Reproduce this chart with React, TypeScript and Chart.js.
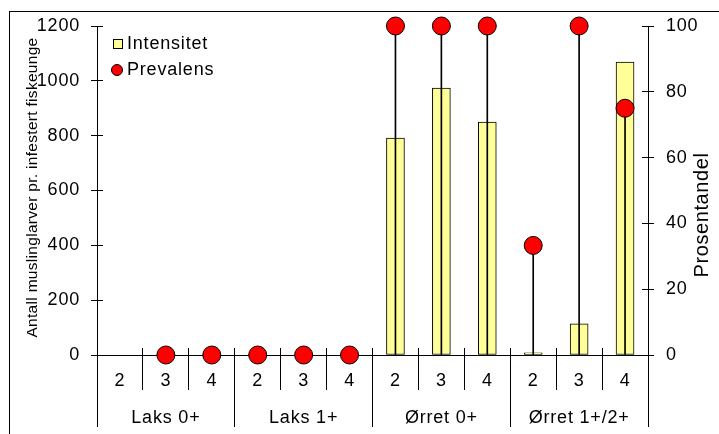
import { useEffect, useRef } from 'react';
import { Chart, registerables } from 'chart.js';

Chart.register(...registerables);

const subLabels = ['2', '3', '4', '2', '3', '4', '2', '3', '4', '2', '3', '4'];
const groupLabels = ['Laks 0+', 'Laks 1+', 'Ørret 0+', 'Ørret 1+/2+'];
const intensitet: (number | null)[] = [null, null, null, null, null, null, 791, 974, 850, 8, 114, 1068];
const prevalens: (number | null)[] = [null, 0, 0, 0, 0, 0, 100, 100, 100, 33.3, 100, 75];
const leftTitle = 'Antall muslinglarver pr. infestert fiskeunge';
const rightTitle = 'Prosentandel';
const legendLabels = ['Intensitet', 'Prevalens'];

const FAMILY = 'Arial, "Liberation Sans", sans-serif';
const BAR_FILL = '#FFFF99';
const POINT_FILL = '#FF0000';

const align = (p: number) => Math.round(p - 0.5) + 0.5;

const decor = {
  id: 'decor',
  beforeDraw(chart: any) {
    const ctx = chart.ctx;
    ctx.save();
    ctx.strokeStyle = '#000';
    ctx.lineWidth = 1;
    ctx.strokeRect(9.5, 11.5, 900, 900);
    ctx.restore();
    ctx.letterSpacing = '0.8px';
  },
  afterDraw(chart: any) {
    const ctx = chart.ctx;
    const { x, y, y2 } = chart.scales;
    ctx.save();
    ctx.strokeStyle = '#000';
    ctx.lineWidth = 1;
    ctx.beginPath();
    y.ticks.forEach((_t: any, i: number) => {
      const py = align(y.getPixelForTick(i));
      ctx.moveTo(y.right, py);
      ctx.lineTo(y.right + 6, py);
    });
    y2.ticks.forEach((_t: any, i: number) => {
      const py = align(y2.getPixelForTick(i));
      ctx.moveTo(y2.left - 6, py);
      ctx.lineTo(y2.left, py);
    });
    for (let i = 1; i < subLabels.length; i++) {
      const px = align(x.getPixelForValue(i - 0.5));
      ctx.moveTo(px, x.top - 7);
      ctx.lineTo(px, x.top);
    }
    ctx.stroke();

    // legend
    ctx.letterSpacing = '0.8px';
    ctx.font = `18px ${FAMILY}`;
    ctx.textAlign = 'left';
    ctx.textBaseline = 'middle';
    ctx.fillStyle = BAR_FILL;
    ctx.fillRect(113, 39, 10, 10);
    ctx.strokeRect(113.5, 39.5, 9, 9);
    ctx.fillStyle = '#000';
    ctx.fillText(legendLabels[0], 127, 44);
    ctx.beginPath();
    ctx.arc(117, 70, 5.5, 0, Math.PI * 2);
    ctx.fillStyle = POINT_FILL;
    ctx.fill();
    ctx.stroke();
    ctx.fillStyle = '#000';
    ctx.fillText(legendLabels[1], 127, 70);

    // left title
    ctx.save();
    ctx.letterSpacing = '0.3px';
    ctx.translate(33, (y.top + y.bottom) / 2 - 3);
    ctx.rotate(-Math.PI / 2);
    ctx.textAlign = 'center';
    ctx.font = `15.5px ${FAMILY}`;
    ctx.fillText(leftTitle, 0, 0);
    ctx.restore();

    // right title
    ctx.save();
    ctx.letterSpacing = '0.6px';
    ctx.translate(702, 215);
    ctx.rotate(-Math.PI / 2);
    ctx.textAlign = 'center';
    ctx.font = `20px ${FAMILY}`;
    ctx.fillText(rightTitle, 0, 0);
    ctx.restore();
    ctx.restore();
  },
};

export default function App() {
  const ref = useRef<HTMLCanvasElement>(null);
  useEffect(() => {
    if (!ref.current) return;
    const tickFont = { family: FAMILY, size: 18 };
    const plain = (v: any) => String(v);
    const chart = new Chart(ref.current, {
      type: 'bar',
      data: {
        labels: subLabels,
        datasets: [
          {
            type: 'line',
            label: legendLabels[1],
            data: prevalens,
            showLine: false,
            pointRadius: 9,
            pointHoverRadius: 9,
            pointBackgroundColor: POINT_FILL,
            pointBorderColor: '#000',
            pointBorderWidth: 1,
            yAxisID: 'y2',
            xAxisID: 'x',
            order: 1,
            clip: false,
          } as any,
          {
            type: 'bar',
            label: 'stem',
            data: prevalens,
            backgroundColor: '#000',
            borderWidth: 0,
            barThickness: 1,
            grouped: false,
            yAxisID: 'y2',
            xAxisID: 'x',
            order: 2,
          } as any,
          {
            type: 'bar',
            label: legendLabels[0],
            data: intensitet,
            backgroundColor: BAR_FILL,
            borderColor: '#000',
            borderWidth: 1,
            borderSkipped: false,
            barThickness: 18,
            grouped: false,
            yAxisID: 'y',
            xAxisID: 'x',
            order: 3,
          } as any,
        ],
      },
      options: {
        animation: false,
        responsive: false,
        devicePixelRatio: 1,
        layout: { padding: { top: 26, left: 0, right: 0, bottom: 0 } },
        plugins: { legend: { display: false }, tooltip: { enabled: false } },
        scales: {
          x: {
            type: 'category',
            labels: subLabels,
            position: 'bottom',
            offset: true,
            grid: { offset: true, drawOnChartArea: false, drawTicks: true, tickLength: 35, color: '#000', lineWidth: 1 },
            border: { display: true, color: '#000', width: 1 },
            ticks: { color: '#000', font: tickFont, padding: -20, autoSkip: false, maxRotation: 0 },
            afterFit: (s: any) => { s.height = 35; },
          },
          x2: {
            type: 'category',
            labels: groupLabels,
            position: 'bottom',
            offset: true,
            grid: { offset: true, drawOnChartArea: false, drawTicks: true, tickLength: 37, color: '#000', lineWidth: 1 },
            border: { display: false },
            ticks: { color: '#000', font: tickFont, padding: -20, autoSkip: false, maxRotation: 0 },
            afterFit: (s: any) => { s.height = 44; },
          },
          y: {
            position: 'left',
            min: 0,
            max: 1200,
            ticks: { stepSize: 200, color: '#000', font: tickFont, padding: 11, callback: plain },
            grid: { drawOnChartArea: false, tickLength: 6, color: '#000' },
            border: { color: '#000' },
            afterFit: (s: any) => { s.width = 97; },
          },
          y2: {
            position: 'right',
            min: 0,
            max: 100,
            ticks: { stepSize: 20, color: '#000', font: tickFont, padding: 12, callback: plain },
            grid: { drawOnChartArea: false, tickLength: 6, color: '#000' },
            border: { color: '#000' },
            afterFit: (s: any) => { s.width = 71; },
          },
        },
      } as any,
      plugins: [decor],
    });
    return () => chart.destroy();
  }, []);
  return (
    <div style={{ position: 'fixed', left: 0, top: 0, width: 719, height: 434, background: '#fff' }}>
      <canvas ref={ref} width={719} height={434} style={{ display: 'block' }} />
    </div>
  );
}
